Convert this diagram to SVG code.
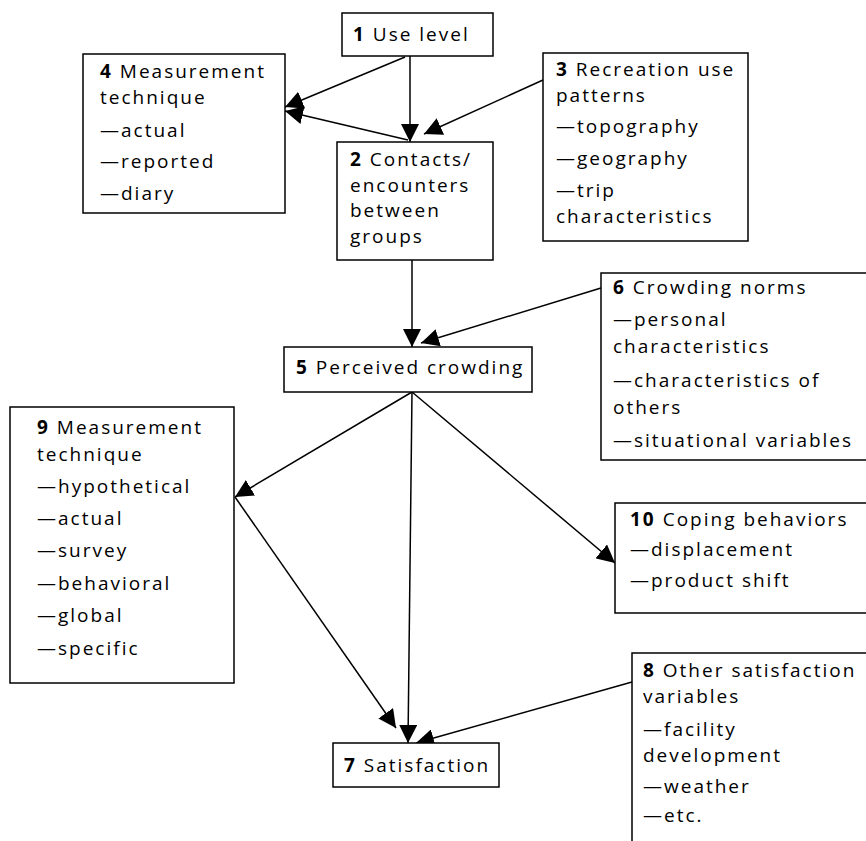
<svg xmlns="http://www.w3.org/2000/svg" width="866" height="841" viewBox="0 0 866 841">
<defs>
<marker id="ah" markerUnits="userSpaceOnUse" viewBox="0 0 18 18" markerWidth="18" markerHeight="18" refX="18" refY="9" orient="auto"><path d="M0,0 L18,9 L0,18 z" fill="#000"/></marker>
<style>
.box{fill:#fff;stroke:#000;stroke-width:1.5}
.t{font-family:"Open Sans","DejaVu Sans",sans-serif;font-size:19px;letter-spacing:2px;fill:#000}
.n{font-weight:bold}
.c{fill:none;stroke:#000;stroke-width:1.5;marker-end:url(#ah)}
</style>
</defs>
<rect width="866" height="841" fill="#fff"/>
<g id="connectors">
<line class="c" x1="410" y1="56" x2="410" y2="142"/>
<line class="c" x1="405" y1="57" x2="285" y2="107"/>
<line class="c" x1="408" y1="140" x2="285" y2="111"/>
<line class="c" x1="543" y1="80" x2="424" y2="134"/>
<line class="c" x1="412" y1="260" x2="412" y2="347"/>
<line class="c" x1="601" y1="288" x2="421" y2="343"/>
<line class="c" x1="412" y1="392" x2="235" y2="497"/>
<line class="c" x1="235" y1="497" x2="396" y2="728"/>
<line class="c" x1="412" y1="392" x2="408" y2="743"/>
<line class="c" x1="632" y1="682" x2="416" y2="743"/>
<line class="c" x1="412" y1="392" x2="615" y2="563"/>
</g>
<g id="node1"><rect class="box" x="342" y="13" width="151" height="43"/>
<text class="t" x="353" y="41"><tspan class="n">1</tspan> Use level</text></g>
<g id="node4"><rect class="box" x="83" y="54" width="202" height="159"/>
<text class="t"><tspan x="100" y="78"><tspan class="n">4</tspan> Measurement</tspan><tspan x="100" y="104">technique</tspan><tspan x="100" y="137">—actual</tspan><tspan x="100" y="168">—reported</tspan><tspan x="100" y="200">—diary</tspan></text></g>
<g id="node3"><rect class="box" x="543" y="53" width="205" height="188"/>
<text class="t"><tspan x="556" y="76"><tspan class="n">3</tspan> Recreation use</tspan><tspan x="556" y="102">patterns</tspan><tspan x="556" y="133">—topography</tspan><tspan x="556" y="165">—geography</tspan><tspan x="556" y="197">—trip</tspan><tspan x="556" y="223">characteristics</tspan></text></g>
<g id="node2"><rect class="box" x="337" y="142" width="156" height="118"/>
<text class="t"><tspan x="350" y="166"><tspan class="n">2</tspan> Contacts/</tspan><tspan x="350" y="192">encounters</tspan><tspan x="350" y="217">between</tspan><tspan x="350" y="243">groups</tspan></text></g>
<g id="node5"><rect class="box" x="284" y="347" width="248" height="45"/>
<text class="t" x="296" y="374"><tspan class="n">5</tspan> Perceived crowding</text></g>
<g id="node6"><rect class="box" x="601" y="273" width="270" height="187"/>
<text class="t"><tspan x="613" y="294"><tspan class="n">6</tspan> Crowding norms</tspan><tspan x="613" y="326">—personal</tspan><tspan x="613" y="353">characteristics</tspan><tspan x="613" y="387">—characteristics of</tspan><tspan x="613" y="414">others</tspan><tspan x="613" y="447">—situational variables</tspan></text></g>
<g id="node9"><rect class="box" x="10" y="407" width="224" height="276"/>
<text class="t"><tspan x="37" y="434"><tspan class="n">9</tspan> Measurement</tspan><tspan x="37" y="461">technique</tspan><tspan x="37" y="493">—hypothetical</tspan><tspan x="37" y="525">—actual</tspan><tspan x="37" y="557">—survey</tspan><tspan x="37" y="590">—behavioral</tspan><tspan x="37" y="622">—global</tspan><tspan x="37" y="655">—specific</tspan></text></g>
<g id="node10"><rect class="box" x="615" y="503" width="260" height="110"/>
<text class="t"><tspan x="630" y="526"><tspan class="n">10</tspan> Coping behaviors</tspan><tspan x="630" y="556">—displacement</tspan><tspan x="630" y="587">—product shift</tspan></text></g>
<g id="node7"><rect class="box" x="333" y="743" width="166" height="44"/>
<text class="t" x="344" y="772"><tspan class="n">7</tspan> Satisfaction</text></g>
<g id="node8"><rect class="box" x="632" y="653" width="240" height="200"/>
<text class="t"><tspan x="643" y="677"><tspan class="n">8</tspan> Other satisfaction</tspan><tspan x="643" y="703">variables</tspan><tspan x="643" y="736">—facility</tspan><tspan x="643" y="762">development</tspan><tspan x="643" y="793">—weather</tspan><tspan x="643" y="822">—etc.</tspan></text></g>
</svg>
